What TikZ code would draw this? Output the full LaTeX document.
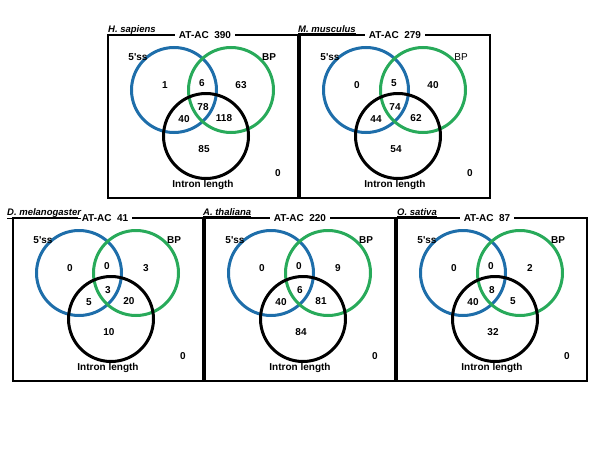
\documentclass[tikz,border=0pt]{standalone}
\usepackage{fontspec}
\setmainfont{Liberation Sans}
\definecolor{ssblue}{RGB}{30,110,170}
\definecolor{bpgreen}{RGB}{40,170,90}
\tikzset{
    num/.style={font=\bfseries\fontsize{10}{12}\selectfont, inner sep=0pt},
    species/.style={font=\bfseries\itshape\fontsize{9.5}{11}\selectfont, inner sep=0pt},
    title/.style={num, fill=white, inner xsep=4pt, inner ysep=2pt},
    ring/.style={circle, line width=3pt, minimum size=85pt, inner sep=0pt},
    frame/.style={line width=1.4pt}
}
\begin{document}
\begin{tikzpicture}[x=1pt, y=-1pt]
\useasboundingbox (0,0) rectangle (600,450);
\foreach \px/\py/\sx/\tx/\spec/\tot/\bp/\rs/\rsb/\rb/\rall/\rsi/\rbi/\ri/\rout [count=\i] in
{
    108/35/0/97/H. sapiens/390/BP/1/6/63/78/40/118/85/0,
    300/35/-2/95/M. musculus/279/\mdseries BP/0/5/40/74/44/62/54/0,
    13/218/-6/92/D. melanogaster/41/BP/0/0/3/3/5/20/10/0,
    205/218/-2/95/A. thaliana/220/BP/0/0/9/6/40/81/84/0,
    397/218/0/90/O. sativa/87/BP/0/0/2/8/40/5/32/0
}
{
    \draw[frame] (\px,\py) rectangle ++(190,163);
    \node[title] (tt\i) at (\px+\tx,\py) {AT-AC\ \ \tot};
    \node[species, anchor=base west] (sp\i) at (\px+\sx,\py-3) {\underline{\spec}};
    % circles
    \node[ring, draw=ssblue] (ss\i) at (\px+66,\py+55) {};
    \node[ring, draw=bpgreen] (bp\i) at (\px+123,\py+55) {};
    \node[ring, draw=black] (il\i) at (\px+98,\py+101) {};
    % labels
    \node[num] (lss\i) at (\px+30,\py+22) {5\textquotesingle ss};
    \node[num] (lbp\i) at (\px+161,\py+22) {\bp};
    \node[num] (lil\i) at (\px+95,\py+150) {Intron length};
    % counts
    \node[num] (ra\i) at (\px+57,\py+50) {\rs};
    \node[num] (rb\i) at (\px+94,\py+48) {\rsb};
    \node[num] (rc\i) at (\px+133,\py+50) {\rb};
    \node[num] (rd\i) at (\px+95,\py+72) {\rall};
    \node[num] (re\i) at (\px+76,\py+84) {\rsi};
    \node[num] (rf\i) at (\px+116,\py+83) {\rbi};
    \node[num] (rg\i) at (\px+96,\py+114) {\ri};
    \node[num] (rh\i) at (\px+170,\py+138) {\rout};
}
\end{tikzpicture}
\end{document}
